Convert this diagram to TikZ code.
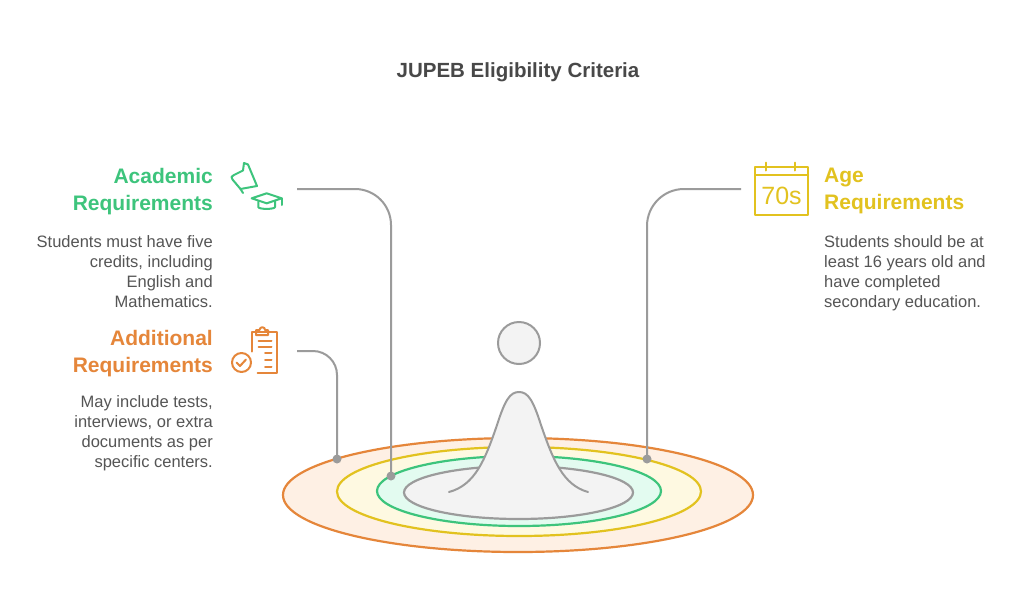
\documentclass[tikz,border=0pt]{standalone}
\usepackage{fontspec}
\setmainfont{Liberation Sans}
\definecolor{cgreen}{HTML}{3DC47C}
\definecolor{corange}{HTML}{E5863A}
\definecolor{cyellow}{HTML}{E2C21F}
\definecolor{ctext}{HTML}{555555}
\definecolor{ctitle}{HTML}{484848}
\definecolor{cline}{HTML}{9B9B9B}
\definecolor{fgray}{HTML}{F3F3F3}
\definecolor{forange}{HTML}{FEF0E4}
\definecolor{fyellow}{HTML}{FEF9E1}
\definecolor{fgreen}{HTML}{E3FBF0}
\tikzset{
  ring/.style={line width=2.2pt},
  conn/.style={draw=cline, line width=2pt},
  dotnode/.style={circle, fill=cline, inner sep=0pt, minimum size=9pt},
  head/.style={font=\bfseries\fontsize{21}{27}\selectfont, inner sep=0pt},
  body/.style={font=\fontsize{16.5}{20}\selectfont, text=ctext, inner sep=0pt},
  icon/.style={line width=2pt, line join=round, line cap=round},
}
\begin{document}
\begin{tikzpicture}[x=1pt,y=-1pt]
\useasboundingbox[fill=white] (0,0) rectangle (1024,608);

% title
\node[font=\bfseries\fontsize{20.5}{24}\selectfont, text=ctitle, anchor=north, inner sep=0pt] (title) at (518,62) {JUPEB Eligibility Criteria};

% rings
\draw[ring, draw=corange, fill=forange] (518,495) ellipse [x radius=235, y radius=57];
\draw[ring, draw=cyellow, fill=fyellow] (519,491.5) ellipse [x radius=182, y radius=44.5];
\draw[ring, draw=cgreen, fill=fgreen] (519,491) ellipse [x radius=142, y radius=35];
\draw[ring, draw=cline, fill=fgray] (518.5,492.5) ellipse [x radius=114.5, y radius=26.5];

% bell
\fill[fgray] (449,492) .. controls (475,485) and (485,460) .. (497,425) .. controls (505,400) and (510,392) .. (519,392) .. controls (528,392) and (533,400) .. (541,425) .. controls (553,460) and (563,485) .. (588,492) -- (588,500) -- (449,500) -- cycle;
\draw[conn, line cap=round] (449,492) .. controls (475,485) and (485,460) .. (497,425) .. controls (505,400) and (510,392) .. (519,392) .. controls (528,392) and (533,400) .. (541,425) .. controls (553,460) and (563,485) .. (588,492);

% head
\node[circle, draw=cline, line width=2pt, fill=fgray, minimum size=42pt, inner sep=0pt] (headc) at (519,343) {};

% dots
\node[dotnode] (dAdd) at (337,459) {};
\node[dotnode] (dAca) at (391,476) {};
\node[dotnode] (dAge) at (647,459) {};

% connector starts
\coordinate (sAca) at (297,189);
\coordinate (sAdd) at (297,351);
\coordinate (sAge) at (741,189);

\draw[conn, rounded corners=36pt] (sAca) -| (dAca.center);
\draw[conn, rounded corners=24pt] (sAdd) -| (dAdd.center);
\draw[conn, rounded corners=37pt] (sAge) -| (dAge.center);

% texts
\node[head, text=cgreen, align=right, anchor=north east] (hAca) at (213,168) {Academic\\Requirements};
\node[body, align=right, anchor=north east] (bAca) at (213,235) {Students must have five\\credits, including\\English and\\Mathematics.};

\node[head, text=corange, align=right, anchor=north east] (hAdd) at (213,330) {Additional\\Requirements};
\node[body, align=right, anchor=north east] (bAdd) at (213,395) {May include tests,\\interviews, or extra\\documents as per\\specific centers.};

\node[head, text=cyellow, align=left, anchor=north west] (hAge) at (824,168) {Age\\Requirements};
\node[body, align=left, anchor=north west] (bAge) at (824,235) {Students should be at\\least 16 years old and\\have completed\\secondary education.};

% academic icon: pin
\draw[icon, draw=cgreen] (244,163) -- (248,164.5) -- (257,186) -- (240.5,189) .. controls (236,184) .. (232.5,179.5) .. controls (231,177) .. (234,175) -- (243,170.5) -- cycle;
\draw[icon, draw=cgreen] (240.5,189) -- (243,193);
% graduation cap
\draw[icon, draw=cgreen] (251.7,198.3) -- (266.7,193.3) -- (281.7,198.3) -- (266.7,203.3) -- cycle;
\draw[icon, draw=cgreen] (258.3,201.5) -- (258.3,207) .. controls (258.3,209.5) and (275,209.5) .. (275,207) -- (275,201.5);
\draw[icon, draw=cgreen] (281.7,198.3) -- (281.7,205);

% additional icon: clipboard
\draw[icon, draw=corange] (252,351.5) -- (252,331.5) -- (277,331.5) -- (277,373) -- (257.5,373);
\draw[icon, draw=corange] (256,335) -- (256,330) -- (259.5,330) arc[start angle=180, end angle=360, radius=2.8] -- (268,330) -- (268,335) -- cycle;
\draw[icon, draw=corange] (241.5,362.5) circle [radius=9.5];
\draw[icon, draw=corange] (236.5,362.5) -- (240,366) -- (246,359.5);
\draw[icon, draw=corange] (258.5,340.7) -- (271.5,340.7);
\draw[icon, draw=corange] (258.5,346.5) -- (271.5,346.5);
\draw[icon, draw=corange] (265,353.3) -- (271.5,353.3);
\draw[icon, draw=corange] (265,360) -- (271.5,360);
\draw[icon, draw=corange] (265,366.7) -- (271.5,366.7);

% age icon: calendar
\draw[icon, draw=cyellow] (755,167) rectangle (808,215);
\draw[icon, draw=cyellow] (755,175) -- (808,175);
\draw[icon, draw=cyellow] (766,162.5) -- (766,170.5);
\draw[icon, draw=cyellow] (795,162.5) -- (795,170.5);
\node[font=\fontsize{25}{25}\selectfont, text=cyellow, inner sep=0pt] (cal) at (781.5,196) {70s};
\end{tikzpicture}
\end{document}
